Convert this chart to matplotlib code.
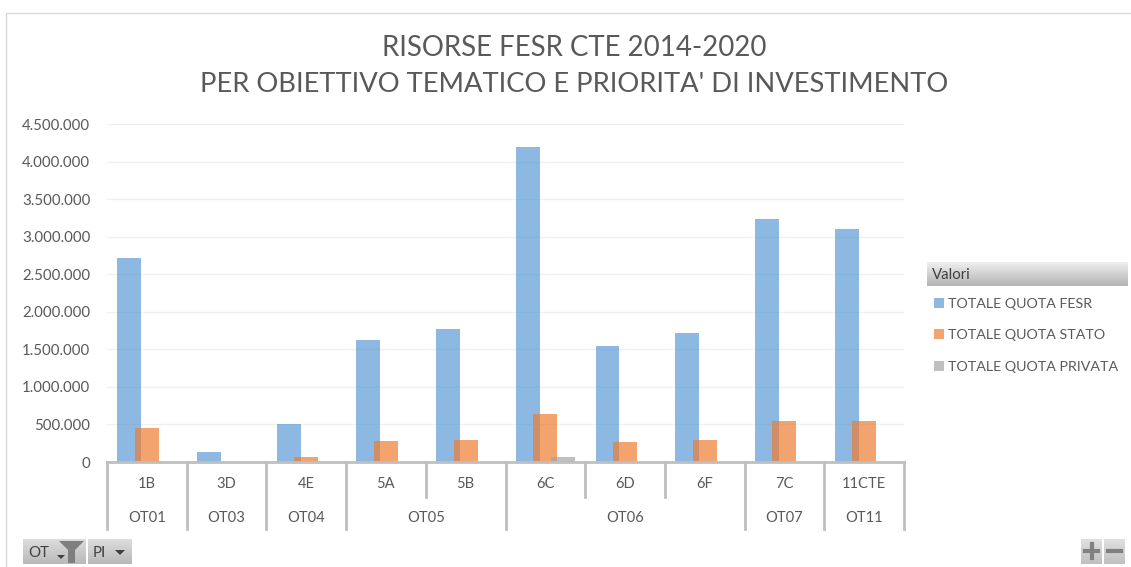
import numpy as np
import matplotlib
matplotlib.use('Agg')
import matplotlib.pyplot as plt
from matplotlib.patches import Rectangle
from matplotlib.lines import Line2D
from matplotlib.ticker import FuncFormatter

plt.rcParams['font.family'] = ['Lato', 'DejaVu Sans']

W, H = 1131, 567

priorities = ['1B', '3D', '4E', '5A', '5B', '6C', '6D', '6F', '7C', '11CTE']
objectives = ['OT01', 'OT03', 'OT04', 'OT05', 'OT06', 'OT07', 'OT11']
obj_sizes = [1, 1, 1, 2, 3, 1, 1]
quota_fesr = [2720000, 130000, 510000, 1620000, 1770000, 4200000, 1550000, 1720000, 3240000, 3100000]
quota_stato = [450000, 0, 70000, 280000, 290000, 640000, 260000, 290000, 550000, 550000]
quota_privata = [0, 0, 0, 0, 0, 70000, 0, 0, 0, 0]
series_names = ['TOTALE QUOTA FESR', 'TOTALE QUOTA STATO', 'TOTALE QUOTA PRIVATA']
colors = ['#5B9BD5', '#ED7D31', '#A5A5A5']
yticks = [0, 500000, 1000000, 1500000, 2000000, 2500000, 3000000, 3500000, 4000000, 4500000]

TXT = '#595959'
LINE = '#BFBFBF'
ALPHA = 0.7


def fig_xy(px, py):
    # pixel coords of the reference -> figure fraction
    return px / W, 1 - py / H


def grad_box(fig, x, y, w, h, top='#EFEFEF', bottom='#B4B4B4'):
    a = fig.add_axes([x / W, 1 - (y + h) / H, w / W, h / H])
    c0, c1 = matplotlib.colors.to_rgb(top), matplotlib.colors.to_rgb(bottom)
    g = np.linspace(0, 1, 32)[:, None, None] * (np.array(c1) - np.array(c0)) + np.array(c0)
    a.imshow(g, aspect='auto')
    a.axis('off')
    return a


fig = plt.figure(figsize=(W / 100, H / 100), dpi=100, facecolor='white')

# outer frame of the chart area
fig.add_artist(Line2D([6 / W, 6 / W, 1 - 1 / W], [0, 1 - 13 / H, 1 - 13 / H], color='#D9D9D9', lw=1))

ax = fig.add_axes([107 / W, 1 - 462 / H, 797 / W, 338 / H])
x = np.arange(len(priorities))
bw = 0.3
off = 0.22
ax.bar(x - off, quota_fesr, bw, color=colors[0], alpha=ALPHA, lw=0, zorder=2)
ax.bar(x, quota_stato, bw, color=colors[1], alpha=ALPHA, lw=0, zorder=3)
ax.bar(x + off, quota_privata, bw, color=colors[2], alpha=ALPHA, lw=0, zorder=4)

ax.set_xlim(-0.5, len(priorities) - 0.5)
ax.set_ylim(0, 4500000)
ax.set_yticks(yticks)
ax.yaxis.set_major_formatter(FuncFormatter(lambda v, p: f'{int(v):,}'.replace(',', '.')))
ax.tick_params(axis='y', length=0, pad=12, labelsize=10.8, labelcolor=TXT)
ax.set_xticks([])
ax.grid(axis='y', color='#F0F0F0', lw=1, zorder=0)
ax.set_axisbelow(True)
for s in ['top', 'right', 'left']:
    ax.spines[s].set_visible(False)
ax.spines['bottom'].set_color(LINE)
ax.spines['bottom'].set_linewidth(2)
ax.spines['bottom'].set_zorder(5)

# two level category axis
tr = ax.get_xaxis_transform()
short_y = -35 / 338
long_y = -67 / 338
for i, lab in enumerate(priorities):
    ax.text(i, -22 / 338, lab, transform=tr, ha='center', va='center', fontsize=10.6, color=TXT)

start = 0
ax.plot([-0.5, -0.5], [0, long_y], transform=tr, color=LINE, lw=2, clip_on=False)
for name, n in zip(objectives, obj_sizes):
    ax.text(start + (n - 1) / 2, -56 / 338, name, transform=tr, ha='center', va='center', fontsize=10.6, color=TXT)
    for k in range(1, n):
        ax.plot([start + k - 0.5] * 2, [0, short_y], transform=tr, color=LINE, lw=2, clip_on=False)
    start += n
    ax.plot([start - 0.5] * 2, [0, long_y], transform=tr, color=LINE, lw=2, clip_on=False)

# title
fig.text(*fig_xy(574, 48), 'RISORSE FESR CTE 2014-2020', ha='center', va='center', fontsize=19.9, color=TXT)
fig.text(*fig_xy(574, 85), "PER OBIETTIVO TEMATICO E PRIORITA' DI INVESTIMENTO", ha='center', va='center', fontsize=19.7, color=TXT)

# legend, pivot chart style
grad_box(fig, 927, 262, 201, 24)
fig.text(*fig_xy(932, 275), 'Valori', ha='left', va='center', fontsize=10.8, color='#404040')
for name, col, py in zip(series_names, colors, [303, 334, 366]):
    fig.add_artist(Rectangle(fig_xy(934, py + 5), 10 / W, 10 / H, color=col, alpha=ALPHA, lw=0, transform=fig.transFigure))
    fig.text(*fig_xy(948, py + 1), name, ha='left', va='center', fontsize=10.3, color=TXT)

# field buttons
grad_box(fig, 23, 539, 63, 25, '#DDDDDD', '#B9B9B9')
grad_box(fig, 88, 539, 44, 25, '#DDDDDD', '#B9B9B9')
fig.text(*fig_xy(28, 553), 'OT', ha='left', va='center', fontsize=10.8, color='#404040')
fig.text(*fig_xy(93, 553), 'PI', ha='left', va='center', fontsize=10.8, color='#404040')
ov = fig.add_axes([0, 0, 1, 1], facecolor='none')
ov.set_xlim(0, W)
ov.set_ylim(H, 0)
ov.axis('off')
# funnel and drop arrows
ov.fill([59, 84, 75, 75, 68, 68], [541, 541, 550, 563, 563, 550], color='#7F7F7F', lw=0)
ov.fill([57, 65, 61], [555, 555, 559], color='#404040', lw=0)
ov.fill([115, 125, 120], [550, 550, 555], color='#404040', lw=0)

# +/- buttons
grad_box(fig, 1081, 539, 21, 25, '#E0E0E0', '#C0C0C0')
grad_box(fig, 1104, 539, 21, 25, '#E0E0E0', '#C0C0C0')
ov2 = fig.add_axes([0, 0, 1, 1], facecolor='none')
ov2.set_xlim(0, W)
ov2.set_ylim(H, 0)
ov2.axis('off')
ov2.plot([1085, 1098], [551, 551], color='#808080', lw=3)
ov2.plot([1091.5, 1091.5], [544, 558], color='#808080', lw=3)
ov2.plot([1108, 1121], [551, 551], color='#808080', lw=3)

fig.savefig('out.png', dpi=100)
